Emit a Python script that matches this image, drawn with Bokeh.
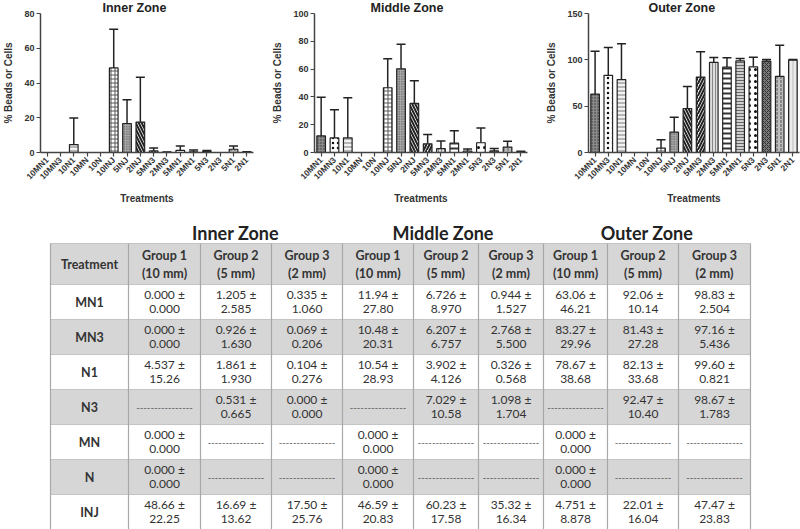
import math
from bokeh.plotting import figure
from bokeh.models import (FactorRange, Range1d, ColumnDataSource, Whisker, TeeHead,
                          FixedTicker)
from bokeh.layouts import column, row
from bokeh.embed import file_html
from bokeh.resources import INLINE
from bokeh.core.properties import value

# ---------------- data ----------------
treatments = ["MN1", "MN3", "N1", "N3", "MN", "N", "INJ"]
group_names = ["Group 1", "Group 2", "Group 3"]
group_sizes = ["(10 mm)", "(5 mm)", "(2 mm)"]
zones = ["Inner Zone", "Middle Zone", "Outer Zone"]

inner_mean = [[0.000, 1.205, 0.335], [0.000, 0.926, 0.069], [4.537, 1.861, 0.104],
              [None, 0.531, 0.000], [0.000, None, None], [0.000, None, None],
              [48.66, 16.69, 17.50]]
inner_sd = [[0.000, 2.585, 1.060], [0.000, 1.630, 0.206], [15.26, 1.930, 0.276],
            [None, 0.665, 0.000], [0.000, None, None], [0.000, None, None],
            [22.25, 13.62, 25.76]]
middle_mean = [[11.94, 6.726, 0.944], [10.48, 6.207, 2.768], [10.54, 3.902, 0.326],
               [None, 7.029, 1.098], [0.000, None, None], [0.000, None, None],
               [46.59, 60.23, 35.32]]
middle_sd = [[27.80, 8.970, 1.527], [20.31, 6.757, 5.500], [28.93, 4.126, 0.568],
             [None, 10.58, 1.704], [0.000, None, None], [0.000, None, None],
             [20.83, 17.58, 16.34]]
outer_mean = [[63.06, 92.06, 98.83], [83.27, 81.43, 97.16], [78.67, 82.13, 99.60],
              [None, 92.47, 98.67], [0.000, None, None], [0.000, None, None],
              [4.751, 22.01, 47.47]]
outer_sd = [[46.21, 10.14, 2.504], [29.96, 27.28, 5.436], [38.68, 33.68, 0.821],
            [None, 10.40, 1.783], [0.000, None, None], [0.000, None, None],
            [8.878, 16.04, 23.83]]

bar_labels = ["10MN1", "10MN3", "10N1", "10MN", "10N", "10INJ", "5INJ", "2INJ",
              "5MN3", "2MN3", "5MN1", "2MN1", "5N3", "2N3", "5N1", "2N1"]
size_to_group = {"10": 0, "5": 1, "2": 2}

y_max = [80, 100, 150]
y_ticks = [[0, 20, 40, 60, 80], [0, 20, 40, 60, 80, 100], [0, 50, 100, 150]]

# bar styles (one per treatment label)
bar_fill = ["#8a8a8a", "#ffffff", "#f2f2f2", "#ffffff", "#ffffff", "#ffffff", "#a8a8a8", "#ffffff",
            "#ffffff", "#dddddd", "#ffffff", "#cfcfcf", "#ffffff", "#7a7a7a", "#bdbdbd", "#ececec"]
bar_hatch = ["dot", "dot", "horizontal_line", " ", " ", "cross", "dot", "left_diagonal_line",
             "right_diagonal_line", "vertical_line", "horizontal_line", "horizontal_line",
             "dot", "diagonal_cross", "vertical_dash", "vertical_line"]
bar_hcolor = ["#333333", "#111111", "#777777", "#000000", "#000000", "#555555", "#444444", "#222222",
              "#222222", "#888888", "#333333", "#666666", "#111111", "#333333", "#555555", "#bbbbbb"]
bar_hscale = [3, 5, 4, 4, 4, 4, 2.5, 6, 6, 3, 5, 3, 6, 4, 4, 4]
bar_hweight = [1, 1.5, 1, 1, 1, 1, 1, 2, 2, 1, 2, 1, 1.8, 1, 1, 1]


def fmt(v):
    return f"{v:.3f}" if v < 10 else f"{v:.2f}"


def make_chart(title, means, sds, ymax, ticks, width, left, right, title_off):
    tops, errs = [], []
    for lab in bar_labels:
        size = "10" if lab.startswith("10") else lab[0]
        g = size_to_group[size]
        r = treatments.index(lab[len(size):])
        tops.append(means[r][g])
        errs.append(sds[r][g])
    src = ColumnDataSource(dict(x=bar_labels, top=tops, fill=bar_fill, hatch=bar_hatch,
                                hcolor=bar_hcolor, hscale=bar_hscale, hweight=bar_hweight))
    keep = [i for i, e in enumerate(errs) if e > 0]
    wsrc = ColumnDataSource(dict(x=[bar_labels[i] for i in keep],
                                 lower=[tops[i] for i in keep],
                                 upper=[tops[i] + errs[i] for i in keep]))

    p = figure(x_range=FactorRange(*bar_labels), y_range=Range1d(0, ymax),
               width=width, height=206, output_backend="svg", toolbar_location=None,
               min_border_left=left, min_border_right=right, min_border_top=11,
               min_border_bottom=54, title=title)
    p.title.align = "left"
    p.title.offset = title_off
    p.title.standoff = -3
    p.title.text_font = "Liberation Sans"
    p.title.text_font_style = "bold"
    p.title.text_font_size = "12.5px"
    p.title.text_color = "#222222"
    p.outline_line_color = None
    p.xgrid.grid_line_color = None
    p.ygrid.grid_line_color = None

    p.vbar(x="x", top="top", width=0.65, source=src, fill_color="fill",
           line_color="#222222", line_width=1.2, hatch_pattern="hatch",
           hatch_color="hcolor", hatch_scale="hscale", hatch_weight="hweight")
    p.add_layout(Whisker(base="x", lower="lower", upper="upper", source=wsrc,
                         line_color="#222222", line_width=1.5, lower_head=None,
                         upper_head=TeeHead(size=9, line_color="#222222", line_width=1.5)))

    for ax in (p.xaxis[0], p.yaxis[0]):
        ax.axis_line_color = "#444444"
        ax.axis_line_width = 1.5
        ax.major_tick_line_color = "#444444"
        ax.major_tick_line_width = 1.2
        ax.major_tick_out = 4
        ax.major_tick_in = 0
        ax.minor_tick_line_color = None
        ax.major_label_text_font = "Liberation Sans"
        ax.major_label_text_font_style = "bold"
        ax.major_label_text_color = "#333333"
        ax.axis_label_text_font = "Liberation Sans"
        ax.axis_label_text_font_style = "bold"
        ax.axis_label_text_color = "#333333"
        ax.axis_label_text_font_size = "10px"

    p.yaxis.ticker = FixedTicker(ticks=ticks)
    p.yaxis.major_label_text_font_size = "9px"
    p.yaxis.major_label_standoff = 2
    p.yaxis.axis_label = "% Beads or Cells"
    p.yaxis.axis_label_standoff = 7

    p.xaxis.major_label_orientation = math.pi / 4
    p.xaxis.major_label_text_font_size = "8.5px"
    p.xaxis.major_label_standoff = 2
    p.xaxis.axis_label = "Treatments"
    p.xaxis.axis_label_standoff = 5
    return p


f1 = make_chart(zones[0], inner_mean, inner_sd, y_max[0], y_ticks[0], 265, 40, 12, 62)
f2 = make_chart(zones[1], middle_mean, middle_sd, y_max[1], y_ticks[1], 265, 49, 3, 56)
f3 = make_chart(zones[2], outer_mean, outer_sd, y_max[2], y_ticks[2], 270, 58, 1, 60)

# ---------------- table ----------------
col_edges = [50, 128, 200, 271, 342, 413, 478, 543, 607, 678, 750]
row_edges = [243, 284, 319, 354, 389, 424, 459, 494, 529]

t = figure(width=800, height=323, x_range=Range1d(0, 800), y_range=Range1d(529, 206),
           output_backend="svg", toolbar_location=None, min_border=0,
           x_axis_type=None, y_axis_type=None)
t.outline_line_color = None
t.grid.grid_line_color = None

gray = "#d6d6d6"
fills = [gray] + [gray if i % 2 == 1 else "white" for i in range(len(treatments))]
t.quad(left=[col_edges[0]] * len(fills), right=[col_edges[-1]] * len(fills),
       top=row_edges[:-1], bottom=row_edges[1:], fill_color=fills, line_color=None)
t.segment(x0=[col_edges[0]] * len(row_edges), x1=[col_edges[-1]] * len(row_edges),
          y0=row_edges, y1=row_edges, line_color="#c4c4c4", line_width=1)
t.segment(x0=col_edges, x1=col_edges, y0=[row_edges[0]] * len(col_edges),
          y1=[row_edges[-1]] * len(col_edges), line_color="#a8a8a8", line_width=1.2)

zone_centers = [(col_edges[1 + 3 * z] + col_edges[4 + 3 * z]) / 2 for z in range(3)]
t.text(x=zone_centers, y=[232] * 3, text=zones, text_align="center", text_baseline="middle",
       text_font=value("Lato"), text_font_style="bold", text_font_size="18px",
       text_color="#222222")

hx, ht1, ht2 = [], [], []
for z in range(3):
    for g in range(3):
        c = 1 + 3 * z + g
        hx.append((col_edges[c] + col_edges[c + 1]) / 2)
        ht1.append(group_names[g])
        ht2.append(group_sizes[g])
t.text(x=hx, y=[255] * len(hx), text=ht1, text_align="center", text_baseline="middle",
       text_font=value("Lato"), text_font_style="bold", text_font_size="12.5px",
       text_color="#333333")
t.text(x=hx, y=[273] * len(hx), text=ht2, text_align="center", text_baseline="middle",
       text_font=value("Lato"), text_font_style="bold", text_font_size="12.5px",
       text_color="#333333")
t.text(x=[(col_edges[0] + col_edges[1]) / 2], y=[264], text=["Treatment"],
       text_align="center", text_baseline="middle", text_font=value("Lato"),
       text_font_style="bold", text_font_size="12.5px", text_color="#333333")

row_cy = [(row_edges[i + 1] + row_edges[i + 2]) / 2 for i in range(len(treatments))]
t.text(x=[(col_edges[0] + col_edges[1]) / 2] * len(treatments), y=row_cy, text=treatments,
       text_align="center", text_baseline="middle", text_font=value("Lato"),
       text_font_style="bold", text_font_size="12.5px", text_color="#333333")

zone_means = [inner_mean, middle_mean, outer_mean]
zone_sds = [inner_sd, middle_sd, outer_sd]
l1x, l1y, l1t, l2x, l2y, l2t, dx, dy = [], [], [], [], [], [], [], []
for z in range(3):
    for g in range(3):
        c = 1 + 3 * z + g
        cx = (col_edges[c] + col_edges[c + 1]) / 2
        for r in range(len(treatments)):
            top = row_edges[r + 1]
            m = zone_means[z][r][g]
            s = zone_sds[z][r][g]
            if m is None:
                dx.append(cx)
                dy.append(row_cy[r])
            else:
                l1x.append(cx); l1y.append(top + 9.5); l1t.append(fmt(m) + " \u00b1")
                l2x.append(cx); l2y.append(top + 24); l2t.append(fmt(s))
t.text(x=l1x, y=l1y, text=l1t, text_align="center", text_baseline="middle",
       text_font=value("Lato"), text_font_size="12px", text_color="#333333")
t.text(x=l2x, y=l2y, text=l2t, text_align="center", text_baseline="middle",
       text_font=value("Lato"), text_font_size="12px", text_color="#333333")
t.text(x=dx, y=dy, text=["-" * 16] * len(dx), text_align="center", text_baseline="middle",
       text_font=value("Lato"), text_font_size="9.5px", text_color="#555555")

layout = column(row(f1, f2, f3), t)
open("out.html", "w").write(file_html(layout, INLINE))
